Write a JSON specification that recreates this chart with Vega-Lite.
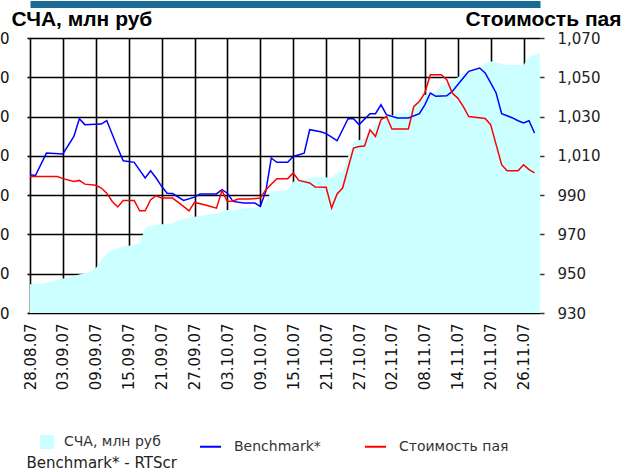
{
  "$schema": "https://vega.github.io/schema/vega-lite/v6.json",
  "width": 510,
  "height": 275,
  "autosize": "none",
  "padding": {"left": 30, "top": 38, "right": 86, "bottom": 159},
  "background": "white",
  "config": {"view": {"stroke": null}, "font": "DejaVu Sans"},
  "datasets": {
    "scha": [
      {"date": "2007-08-28", "scha": 73}, {"date": "2007-08-30", "scha": 74}, {"date": "2007-09-02", "scha": 84},
      {"date": "2007-09-06", "scha": 98}, {"date": "2007-09-08", "scha": 105}, {"date": "2007-09-09", "scha": 114},
      {"date": "2007-09-10", "scha": 135}, {"date": "2007-09-11", "scha": 152}, {"date": "2007-09-12", "scha": 160},
      {"date": "2007-09-14", "scha": 169}, {"date": "2007-09-15", "scha": 171}, {"date": "2007-09-17", "scha": 177},
      {"date": "2007-09-18", "scha": 216}, {"date": "2007-09-19", "scha": 222}, {"date": "2007-09-21", "scha": 226},
      {"date": "2007-09-23", "scha": 228}, {"date": "2007-09-24", "scha": 237}, {"date": "2007-09-27", "scha": 245},
      {"date": "2007-09-29", "scha": 249}, {"date": "2007-10-01", "scha": 254}, {"date": "2007-10-03", "scha": 262},
      {"date": "2007-10-04", "scha": 262}, {"date": "2007-10-06", "scha": 266}, {"date": "2007-10-09", "scha": 270},
      {"date": "2007-10-10", "scha": 283}, {"date": "2007-10-11", "scha": 309}, {"date": "2007-10-14", "scha": 313},
      {"date": "2007-10-15", "scha": 334}, {"date": "2007-10-18", "scha": 343}, {"date": "2007-10-19", "scha": 347},
      {"date": "2007-10-22", "scha": 344}, {"date": "2007-10-23", "scha": 356}, {"date": "2007-10-24", "scha": 360},
      {"date": "2007-10-26", "scha": 436}, {"date": "2007-10-27", "scha": 440}, {"date": "2007-10-28", "scha": 445},
      {"date": "2007-10-29", "scha": 457}, {"date": "2007-10-30", "scha": 478}, {"date": "2007-11-01", "scha": 497},
      {"date": "2007-11-03", "scha": 508}, {"date": "2007-11-05", "scha": 510}, {"date": "2007-11-06", "scha": 529},
      {"date": "2007-11-08", "scha": 555}, {"date": "2007-11-10", "scha": 563}, {"date": "2007-11-11", "scha": 580},
      {"date": "2007-11-13", "scha": 589}, {"date": "2007-11-15", "scha": 610}, {"date": "2007-11-18", "scha": 623},
      {"date": "2007-11-19", "scha": 636}, {"date": "2007-11-20", "scha": 641}, {"date": "2007-11-23", "scha": 631},
      {"date": "2007-11-26", "scha": 631}, {"date": "2007-11-27", "scha": 652}, {"date": "2007-11-29", "scha": 661}
    ],
    "pay": [
      {"date": "2007-08-28", "series": "Benchmark*", "value": 1000.4},
      {"date": "2007-08-29", "series": "Benchmark*", "value": 1000},
      {"date": "2007-08-31", "series": "Benchmark*", "value": 1011.4},
      {"date": "2007-09-03", "series": "Benchmark*", "value": 1011},
      {"date": "2007-09-05", "series": "Benchmark*", "value": 1019.9},
      {"date": "2007-09-06", "series": "Benchmark*", "value": 1028.9},
      {"date": "2007-09-07", "series": "Benchmark*", "value": 1025.9},
      {"date": "2007-09-10", "series": "Benchmark*", "value": 1026.2},
      {"date": "2007-09-11", "series": "Benchmark*", "value": 1028},
      {"date": "2007-09-13", "series": "Benchmark*", "value": 1014},
      {"date": "2007-09-14", "series": "Benchmark*", "value": 1007.5},
      {"date": "2007-09-16", "series": "Benchmark*", "value": 1006.7},
      {"date": "2007-09-18", "series": "Benchmark*", "value": 998.7},
      {"date": "2007-09-19", "series": "Benchmark*", "value": 1002.4},
      {"date": "2007-09-20", "series": "Benchmark*", "value": 998.7},
      {"date": "2007-09-21", "series": "Benchmark*", "value": 994.5},
      {"date": "2007-09-22", "series": "Benchmark*", "value": 991},
      {"date": "2007-09-23", "series": "Benchmark*", "value": 990.8},
      {"date": "2007-09-25", "series": "Benchmark*", "value": 987.3},
      {"date": "2007-09-27", "series": "Benchmark*", "value": 989},
      {"date": "2007-09-28", "series": "Benchmark*", "value": 990.6},
      {"date": "2007-10-01", "series": "Benchmark*", "value": 990.6},
      {"date": "2007-10-02", "series": "Benchmark*", "value": 992.8},
      {"date": "2007-10-03", "series": "Benchmark*", "value": 991},
      {"date": "2007-10-04", "series": "Benchmark*", "value": 986.8},
      {"date": "2007-10-06", "series": "Benchmark*", "value": 986},
      {"date": "2007-10-08", "series": "Benchmark*", "value": 986},
      {"date": "2007-10-09", "series": "Benchmark*", "value": 984.3},
      {"date": "2007-10-10", "series": "Benchmark*", "value": 991.9},
      {"date": "2007-10-11", "series": "Benchmark*", "value": 1008.9},
      {"date": "2007-10-12", "series": "Benchmark*", "value": 1006.7},
      {"date": "2007-10-14", "series": "Benchmark*", "value": 1006.7},
      {"date": "2007-10-15", "series": "Benchmark*", "value": 1009.7},
      {"date": "2007-10-17", "series": "Benchmark*", "value": 1011.4},
      {"date": "2007-10-18", "series": "Benchmark*", "value": 1023.3},
      {"date": "2007-10-20", "series": "Benchmark*", "value": 1022.3},
      {"date": "2007-10-21", "series": "Benchmark*", "value": 1021.3},
      {"date": "2007-10-23", "series": "Benchmark*", "value": 1017.7},
      {"date": "2007-10-24", "series": "Benchmark*", "value": 1023.3},
      {"date": "2007-10-25", "series": "Benchmark*", "value": 1028.9},
      {"date": "2007-10-26", "series": "Benchmark*", "value": 1028.9},
      {"date": "2007-10-27", "series": "Benchmark*", "value": 1025.9},
      {"date": "2007-10-29", "series": "Benchmark*", "value": 1031.5},
      {"date": "2007-10-30", "series": "Benchmark*", "value": 1031.5},
      {"date": "2007-10-31", "series": "Benchmark*", "value": 1036},
      {"date": "2007-11-01", "series": "Benchmark*", "value": 1031},
      {"date": "2007-11-03", "series": "Benchmark*", "value": 1029.3},
      {"date": "2007-11-05", "series": "Benchmark*", "value": 1029.3},
      {"date": "2007-11-07", "series": "Benchmark*", "value": 1031.5},
      {"date": "2007-11-08", "series": "Benchmark*", "value": 1036},
      {"date": "2007-11-09", "series": "Benchmark*", "value": 1042},
      {"date": "2007-11-10", "series": "Benchmark*", "value": 1040.3},
      {"date": "2007-11-12", "series": "Benchmark*", "value": 1040.6},
      {"date": "2007-11-13", "series": "Benchmark*", "value": 1042.8},
      {"date": "2007-11-15", "series": "Benchmark*", "value": 1049.6},
      {"date": "2007-11-16", "series": "Benchmark*", "value": 1053},
      {"date": "2007-11-18", "series": "Benchmark*", "value": 1054.7},
      {"date": "2007-11-19", "series": "Benchmark*", "value": 1052.2},
      {"date": "2007-11-20", "series": "Benchmark*", "value": 1047.1},
      {"date": "2007-11-21", "series": "Benchmark*", "value": 1042},
      {"date": "2007-11-22", "series": "Benchmark*", "value": 1031.5},
      {"date": "2007-11-24", "series": "Benchmark*", "value": 1029.3},
      {"date": "2007-11-25", "series": "Benchmark*", "value": 1027.9},
      {"date": "2007-11-26", "series": "Benchmark*", "value": 1026.7},
      {"date": "2007-11-27", "series": "Benchmark*", "value": 1027.9},
      {"date": "2007-11-28", "series": "Benchmark*", "value": 1021.6},
      {"date": "2007-08-28", "series": "Стоимость пая", "value": 999.5},
      {"date": "2007-09-02", "series": "Стоимость пая", "value": 999.5},
      {"date": "2007-09-03", "series": "Стоимость пая", "value": 998.4},
      {"date": "2007-09-05", "series": "Стоимость пая", "value": 997},
      {"date": "2007-09-06", "series": "Стоимость пая", "value": 997.5},
      {"date": "2007-09-07", "series": "Стоимость пая", "value": 995.6},
      {"date": "2007-09-09", "series": "Стоимость пая", "value": 995},
      {"date": "2007-09-10", "series": "Стоимость пая", "value": 993.6},
      {"date": "2007-09-11", "series": "Стоимость пая", "value": 991},
      {"date": "2007-09-12", "series": "Стоимость пая", "value": 986.8},
      {"date": "2007-09-13", "series": "Стоимость пая", "value": 984},
      {"date": "2007-09-14", "series": "Стоимость пая", "value": 987.3},
      {"date": "2007-09-16", "series": "Стоимость пая", "value": 987.3},
      {"date": "2007-09-17", "series": "Стоимость пая", "value": 982},
      {"date": "2007-09-18", "series": "Стоимость пая", "value": 982},
      {"date": "2007-09-19", "series": "Стоимость пая", "value": 987.7},
      {"date": "2007-09-20", "series": "Стоимость пая", "value": 989.7},
      {"date": "2007-09-21", "series": "Стоимость пая", "value": 988.5},
      {"date": "2007-09-23", "series": "Стоимость пая", "value": 988.5},
      {"date": "2007-09-25", "series": "Стоимость пая", "value": 984.3},
      {"date": "2007-09-26", "series": "Стоимость пая", "value": 982},
      {"date": "2007-09-27", "series": "Стоимость пая", "value": 986.3},
      {"date": "2007-09-29", "series": "Стоимость пая", "value": 985},
      {"date": "2007-10-01", "series": "Стоимость пая", "value": 983.4},
      {"date": "2007-10-02", "series": "Стоимость пая", "value": 992.3},
      {"date": "2007-10-03", "series": "Стоимость пая", "value": 986.8},
      {"date": "2007-10-04", "series": "Стоимость пая", "value": 987},
      {"date": "2007-10-05", "series": "Стоимость пая", "value": 988},
      {"date": "2007-10-07", "series": "Стоимость пая", "value": 988},
      {"date": "2007-10-09", "series": "Стоимость пая", "value": 988.5},
      {"date": "2007-10-10", "series": "Стоимость пая", "value": 992.8},
      {"date": "2007-10-12", "series": "Стоимость пая", "value": 998.4},
      {"date": "2007-10-14", "series": "Стоимость пая", "value": 998.4},
      {"date": "2007-10-15", "series": "Стоимость пая", "value": 1001.3},
      {"date": "2007-10-16", "series": "Стоимость пая", "value": 997.5},
      {"date": "2007-10-18", "series": "Стоимость пая", "value": 996.2},
      {"date": "2007-10-19", "series": "Стоимость пая", "value": 994.1},
      {"date": "2007-10-21", "series": "Стоимость пая", "value": 994},
      {"date": "2007-10-22", "series": "Стоимость пая", "value": 983.4},
      {"date": "2007-10-23", "series": "Стоимость пая", "value": 990.6},
      {"date": "2007-10-24", "series": "Стоимость пая", "value": 993.6},
      {"date": "2007-10-25", "series": "Стоимость пая", "value": 1003.8},
      {"date": "2007-10-26", "series": "Стоимость пая", "value": 1014},
      {"date": "2007-10-27", "series": "Стоимость пая", "value": 1014.8},
      {"date": "2007-10-28", "series": "Стоимость пая", "value": 1015},
      {"date": "2007-10-29", "series": "Стоимость пая", "value": 1023.3},
      {"date": "2007-10-30", "series": "Стоимость пая", "value": 1019.9},
      {"date": "2007-10-31", "series": "Стоимость пая", "value": 1028.4},
      {"date": "2007-11-01", "series": "Стоимость пая", "value": 1030},
      {"date": "2007-11-02", "series": "Стоимость пая", "value": 1023.7},
      {"date": "2007-11-05", "series": "Стоимость пая", "value": 1023.7},
      {"date": "2007-11-06", "series": "Стоимость пая", "value": 1035.2},
      {"date": "2007-11-07", "series": "Стоимость пая", "value": 1037.7},
      {"date": "2007-11-08", "series": "Стоимость пая", "value": 1042},
      {"date": "2007-11-09", "series": "Стоимость пая", "value": 1051.3},
      {"date": "2007-11-11", "series": "Стоимость пая", "value": 1051.3},
      {"date": "2007-11-12", "series": "Стоимость пая", "value": 1048.8},
      {"date": "2007-11-13", "series": "Стоимость пая", "value": 1042},
      {"date": "2007-11-14", "series": "Стоимость пая", "value": 1039.4},
      {"date": "2007-11-15", "series": "Стоимость пая", "value": 1035.2},
      {"date": "2007-11-16", "series": "Стоимость пая", "value": 1030},
      {"date": "2007-11-19", "series": "Стоимость пая", "value": 1029},
      {"date": "2007-11-20", "series": "Стоимость пая", "value": 1025.9},
      {"date": "2007-11-21", "series": "Стоимость пая", "value": 1015.7},
      {"date": "2007-11-22", "series": "Стоимость пая", "value": 1005.5},
      {"date": "2007-11-23", "series": "Стоимость пая", "value": 1002.4},
      {"date": "2007-11-25", "series": "Стоимость пая", "value": 1002.4},
      {"date": "2007-11-26", "series": "Стоимость пая", "value": 1005.5},
      {"date": "2007-11-27", "series": "Стоимость пая", "value": 1003},
      {"date": "2007-11-28", "series": "Стоимость пая", "value": 1001.3}
    ]
  },
  "layer": [
    {
      "data": {"name": "scha"},
      "mark": {"type": "area", "color": "#ccffff"},
      "encoding": {
        "x": {
          "field": "date", "type": "temporal",
          "scale": {"type": "utc", "domain": [{"year": 2007, "month": "Aug", "date": 28, "utc": true}, {"year": 2007, "month": "Nov", "date": 29, "utc": true}]},
          "axis": {
            "orient": "bottom",
            "values": [
              {"year": 2007, "month": "Aug", "date": 28, "utc": true},
              {"year": 2007, "month": "Sep", "date": 3, "utc": true},
              {"year": 2007, "month": "Sep", "date": 9, "utc": true},
              {"year": 2007, "month": "Sep", "date": 15, "utc": true},
              {"year": 2007, "month": "Sep", "date": 21, "utc": true},
              {"year": 2007, "month": "Sep", "date": 27, "utc": true},
              {"year": 2007, "month": "Oct", "date": 3, "utc": true},
              {"year": 2007, "month": "Oct", "date": 9, "utc": true},
              {"year": 2007, "month": "Oct", "date": 15, "utc": true},
              {"year": 2007, "month": "Oct", "date": 21, "utc": true},
              {"year": 2007, "month": "Oct", "date": 27, "utc": true},
              {"year": 2007, "month": "Nov", "date": 2, "utc": true},
              {"year": 2007, "month": "Nov", "date": 8, "utc": true},
              {"year": 2007, "month": "Nov", "date": 14, "utc": true},
              {"year": 2007, "month": "Nov", "date": 20, "utc": true},
              {"year": 2007, "month": "Nov", "date": 26, "utc": true}
            ],
            "labelExpr": "utcFormat(datum.value, '%d.%m.%y')",
            "labelAngle": -90,
            "labelAlign": "right",
            "labelBaseline": "middle",
            "labelPadding": 10,
            "labelFontSize": 15,
            "labelColor": "#111",
            "labelOverlap": false,
            "labelFlush": false,
            "grid": true,
            "gridColor": "#000",
            "gridWidth": 1.6,
            "gridOpacity": 1,
            "ticks": false,
            "domain": false,
            "title": "Benchmark* - RTScr",
            "titleAngle": 0,
            "titleAlign": "left",
            "titleBaseline": "alphabetic",
            "titleX": -4,
            "titleY": 154,
            "titleFontSize": 15,
            "titleFontWeight": "normal",
            "titleColor": "#222"
          }
        },
        "y": {
          "field": "scha", "type": "quantitative",
          "scale": {"domain": [0, 700], "nice": false},
          "axis": {
            "orient": "left",
            "values": [0, 100, 200, 300, 400, 500, 600, 700],
            "grid": false,
            "domain": false,
            "tickSize": 3,
            "tickColor": "#000",
            "tickWidth": 1.6,
            "labelPadding": 18,
            "labelFontSize": 15,
            "labelColor": "#111",
            "title": "СЧА, млн руб",
            "titleAngle": 0,
            "titleAlign": "left",
            "titleBaseline": "alphabetic",
            "titleX": -19,
            "titleY": -13,
            "titleFont": "Liberation Sans",
            "titleFontWeight": "bold",
            "titleFontSize": 21,
            "titleColor": "#000"
          }
        },
        "fill": {
          "datum": "СЧА, млн руб", "type": "nominal",
          "scale": {"range": ["#ccffff"]},
          "legend": {
            "orient": "none", "legendX": 10, "legendY": 397,
            "title": null, "symbolType": "square", "symbolSize": 196,
            "symbolStrokeWidth": 0, "symbolOpacity": 1,
            "labelFontSize": 14, "labelColor": "#333", "labelOffset": 10
          }
        }
      }
    },
    {
      "data": {"name": "pay"},
      "mark": {"type": "line", "strokeWidth": 1.5},
      "encoding": {
        "x": {
          "field": "date", "type": "temporal",
          "axis": {
            "orient": "top", "labels": false, "ticks": false, "grid": false,
            "domain": true, "domainColor": "#1a6a96", "domainWidth": 7,
            "offset": 34, "title": null
          }
        },
        "y": {
          "field": "value", "type": "quantitative",
          "scale": {"domain": [930, 1070], "nice": false, "zero": false},
          "axis": {
            "orient": "right",
            "values": [930, 950, 970, 990, 1010, 1030, 1050, 1070],
            "format": ",d",
            "grid": true,
            "gridColor": "#000",
            "gridWidth": 1.6,
            "gridOpacity": 1,
            "domain": false,
            "tickSize": 4,
            "tickColor": "#333",
            "tickWidth": 1.5,
            "labelPadding": 13,
            "labelFontSize": 15,
            "labelColor": "#222",
            "title": "Стоимость пая",
            "titleAngle": 0,
            "titleAlign": "right",
            "titleBaseline": "alphabetic",
            "titleX": 81,
            "titleY": -13,
            "titleFont": "Liberation Sans",
            "titleFontWeight": "bold",
            "titleFontSize": 21,
            "titleColor": "#000"
          }
        },
        "stroke": {
          "field": "series", "type": "nominal",
          "scale": {"domain": ["Benchmark*", "Стоимость пая"], "range": ["#0000ff", "#ff0000"]},
          "legend": {
            "orient": "none", "legendX": 169, "legendY": 397, "direction": "horizontal",
            "title": null, "symbolType": "stroke", "symbolSize": 441, "symbolStrokeWidth": 2,
            "labelFontSize": 14, "labelColor": "#333", "labelOffset": 12, "columnPadding": 40
          }
        }
      }
    }
  ],
  "resolve": {"scale": {"y": "independent"}, "axis": {"x": "independent"}}
}
